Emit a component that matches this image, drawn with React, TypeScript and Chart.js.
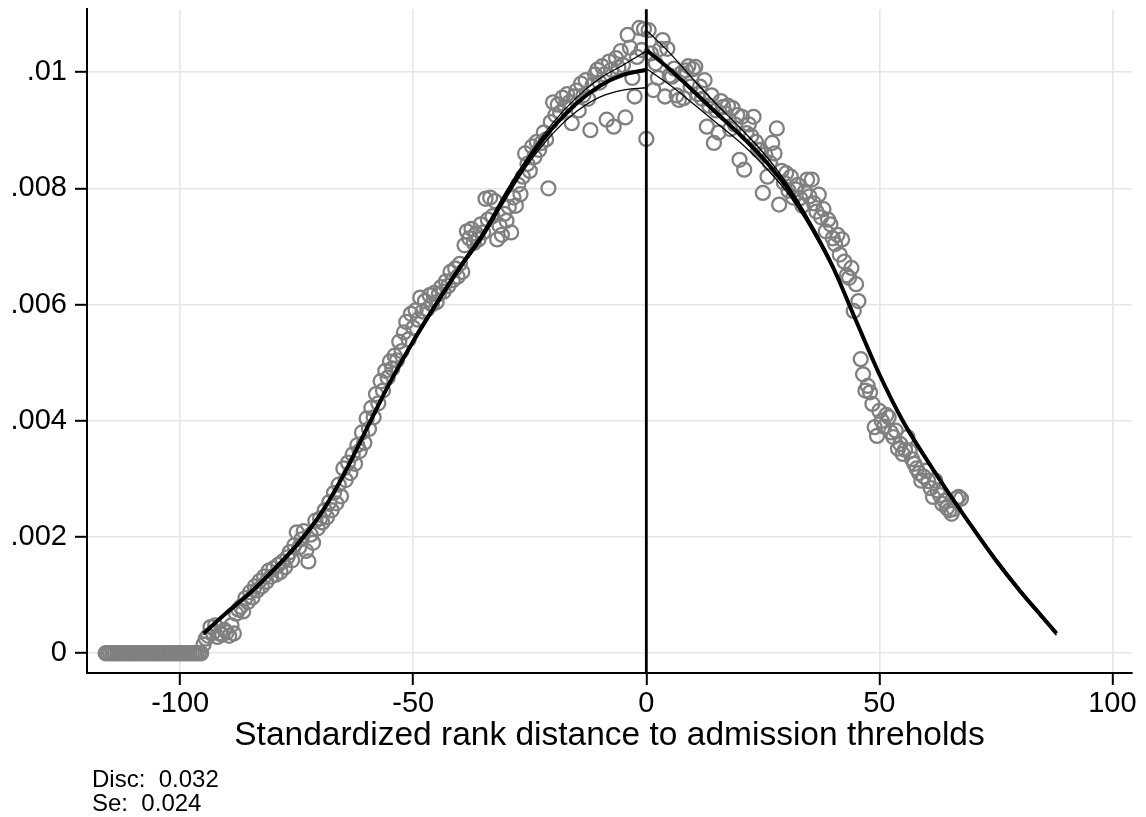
import React, { useEffect, useRef } from 'react';
import { Chart, registerables } from 'chart.js';

Chart.register(...registerables);

const FONT = "'Liberation Sans', Arial, Helvetica, sans-serif";

const xTicks = [-100, -50, 0, 50, 100];
const yTicks = [0, 0.002, 0.004, 0.006, 0.008, 0.01];
const yTickLabels = ['0', '.002', '.004', '.006', '.008', '.01'];
const xTitle = 'Standardized rank distance to admission threholds';
const noteLines = ['Disc:  0.032', 'Se:  0.024'];
const cutoff = 0;

// bins with zero density (left tail)
const zeroBinsX = [
  -116, -115.5, -115, -114.5, -114, -113.5, -113, -112.5, -112, -111.5, -111, -110.5, -110, -109.5,
  -109, -108.5, -108, -107.5, -107, -106.5, -106, -105.5, -105, -104.5, -104, -103.5, -103, -102.5,
  -102, -101.5, -101, -100.5, -100, -99.5, -99, -98.5, -98, -97.5, -97, -96.5, -96, -95.5,
];

// binned density, left of the threshold [x, density]
const leftBins: [number, number][] = [
  [-95, 0.00015], [-94.5, 0.00025], [-94, 0.0003], [-93.5, 0.00045], [-93, 0.00035], [-92.5, 0.00048], [-92, 0.00028], [-91.5, 0.00034],
  [-91, 0.00032], [-90.5, 0.0004], [-90, 0.00036], [-89.5, 0.0003], [-89, 0.00048], [-88.5, 0.00034], [-88, 0.00068], [-87.5, 0.00075],
  [-87, 0.0008], [-86.5, 0.00072], [-86, 0.00095], [-85.5, 0.00088], [-85, 0.00105], [-84.5, 0.00096], [-84, 0.00115], [-83.5, 0.00108],
  [-83, 0.00124], [-82.5, 0.00115], [-82, 0.00132], [-81.5, 0.00123], [-81, 0.00142], [-80.5, 0.00132], [-80, 0.00146], [-79.5, 0.00135],
  [-79, 0.00152], [-78.5, 0.0014], [-78, 0.00158], [-77.5, 0.00148], [-77, 0.00165], [-76.5, 0.00174], [-76, 0.0016], [-75.5, 0.00186],
  [-75, 0.00208], [-74.5, 0.00182], [-74, 0.00196], [-73.5, 0.0021], [-73, 0.00176], [-72.5, 0.00158], [-72, 0.00204], [-71.5, 0.0019],
  [-71, 0.00228], [-70.5, 0.00215], [-70, 0.00232], [-69.5, 0.00225], [-69, 0.00246], [-68.5, 0.00234], [-68, 0.0026], [-67.5, 0.00246],
  [-67, 0.00276], [-66.5, 0.00258], [-66, 0.0029], [-65.5, 0.0027], [-65, 0.00318], [-64.5, 0.00298], [-64, 0.00328], [-63.5, 0.0031],
  [-63, 0.00342], [-62.5, 0.00326], [-62, 0.00358], [-61.5, 0.00348], [-61, 0.0038], [-60.5, 0.00362], [-60, 0.00404], [-59.5, 0.00386],
  [-59, 0.00422], [-58.5, 0.00406], [-58, 0.00446], [-57.5, 0.0043], [-57, 0.00468], [-56.5, 0.00452], [-56, 0.00486], [-55.5, 0.00474],
  [-55, 0.00502], [-54.5, 0.0049], [-54, 0.00512], [-53.5, 0.00504], [-53, 0.00536], [-52.5, 0.0052], [-52, 0.00552], [-51.5, 0.0057],
  [-51, 0.0054], [-50.5, 0.00584], [-50, 0.0056], [-49.5, 0.0059], [-49, 0.00574], [-48.5, 0.00612], [-48, 0.00588], [-47.5, 0.00606],
  [-47, 0.00592], [-46.5, 0.00616], [-46, 0.006], [-45.5, 0.0062], [-45, 0.00604], [-44.5, 0.00618], [-44, 0.0063], [-43.5, 0.00622],
  [-43, 0.0064], [-42.5, 0.00632], [-42, 0.00656], [-41.5, 0.00642], [-41, 0.00662], [-40.5, 0.00648], [-40, 0.0067], [-39.5, 0.00656],
  [-39, 0.00702], [-38.5, 0.00726], [-38, 0.00714], [-37.5, 0.0073], [-37, 0.00706], [-36.5, 0.00722], [-36, 0.00712], [-35.5, 0.00738],
  [-35, 0.00724], [-34.5, 0.00782], [-34, 0.00746], [-33.5, 0.00784], [-33, 0.00752], [-32.5, 0.00778], [-32, 0.00712], [-31.5, 0.00736],
  [-31, 0.0072], [-30.5, 0.00756], [-30, 0.00744], [-29.5, 0.00768], [-29, 0.00724], [-28.5, 0.00784], [-28, 0.0077], [-27.5, 0.00806],
  [-27, 0.0079], [-26.5, 0.0082], [-26, 0.0086], [-25.5, 0.00842], [-25, 0.0083], [-24.5, 0.00872], [-24, 0.00854], [-23.5, 0.0088],
  [-23, 0.00866], [-22.5, 0.00878], [-22, 0.00896], [-21.5, 0.00884], [-21, 0.008], [-20.5, 0.00914], [-20, 0.00948], [-19.5, 0.00926],
  [-19, 0.00944], [-18.5, 0.0093], [-18, 0.00956], [-17.5, 0.0094], [-17, 0.00962], [-16.5, 0.00948], [-16, 0.00912], [-15.5, 0.00958],
  [-15, 0.00968], [-14.5, 0.00934], [-14, 0.0098], [-13.5, 0.0096], [-13, 0.00986], [-12.5, 0.00954], [-12, 0.009], [-11.5, 0.00978],
  [-11, 0.00996], [-10.5, 0.01004], [-10, 0.00982], [-9.5, 0.0101], [-9, 0.00996], [-8.5, 0.00918], [-8, 0.01018], [-7.5, 0.01004],
  [-7, 0.00906], [-6.5, 0.01024], [-6, 0.01008], [-5.5, 0.01036], [-5, 0.01012], [-4.5, 0.00922], [-4, 0.01064], [-3.5, 0.01042],
  [-3, 0.0099], [-2.5, 0.00958], [-2, 0.01026], [-1.5, 0.01076], [-1, 0.01038], [-0.5, 0.01074], [0, 0.00885],
];

// binned density, right of the threshold [x, density]
const rightBins: [number, number][] = [
  [0.5, 0.01072], [1, 0.01032], [1.5, 0.00969], [2, 0.01015], [2.5, 0.0099], [3, 0.0104], [3.5, 0.01055], [4, 0.00958],
  [4.5, 0.0104], [5, 0.00994], [5.5, 0.00992], [6, 0.01006], [6.5, 0.0096], [7, 0.00952], [7.5, 0.00998], [8, 0.00955],
  [8.5, 0.01003], [9, 0.0101], [9.5, 0.00975], [10, 0.01005], [10.5, 0.01009], [11, 0.00962], [11.5, 0.00975], [12, 0.00954],
  [12.5, 0.00986], [13, 0.00906], [13.5, 0.00942], [14, 0.0096], [14.5, 0.00878], [15, 0.00934], [15.5, 0.00896], [16, 0.0095],
  [16.5, 0.0094], [17, 0.00929], [17.5, 0.00942], [18, 0.00902], [18.5, 0.00938], [19, 0.0091], [19.5, 0.00926], [20, 0.00849],
  [20.5, 0.00923], [21, 0.00832], [21.5, 0.00895], [22, 0.0091], [22.5, 0.0089], [23, 0.00923], [23.5, 0.0088], [24, 0.00866],
  [24.5, 0.00866], [25, 0.00792], [25.5, 0.00858], [26, 0.0082], [26.5, 0.00844], [27, 0.00878], [27.5, 0.0086], [28, 0.00903],
  [28.5, 0.00772], [29, 0.0083], [29.5, 0.0081], [30, 0.00826], [30.5, 0.00796], [31, 0.0082], [31.5, 0.00784], [32, 0.00798],
  [32.5, 0.00806], [33, 0.00783], [33.5, 0.0077], [34, 0.00794], [34.5, 0.00815], [35, 0.00786], [35.5, 0.00815], [36, 0.00774],
  [36.5, 0.0076], [37, 0.00789], [37.5, 0.0075], [38, 0.00764], [38.5, 0.00726], [39, 0.00746], [39.5, 0.00738], [40, 0.00714],
  [40.5, 0.00704], [41, 0.0072], [41.5, 0.00686], [42, 0.00712], [42.5, 0.00674], [43, 0.0065], [43.5, 0.00646], [44, 0.00663],
  [44.5, 0.00589], [45, 0.00635], [45.5, 0.00606], [46, 0.00506], [46.5, 0.0048], [47, 0.00452], [47.5, 0.0046], [48, 0.00449],
  [48.5, 0.00429], [49, 0.00389], [49.5, 0.00374], [50, 0.00417], [50.5, 0.004], [51, 0.0039], [51.5, 0.0041], [52, 0.00406],
  [52.5, 0.0038], [53, 0.00372], [53.5, 0.00383], [54, 0.00352], [54.5, 0.0036], [55, 0.00343], [55.5, 0.0035], [56, 0.00372],
  [56.5, 0.00348], [57, 0.00334], [57.5, 0.00326], [58, 0.00318], [58.5, 0.0031], [59, 0.00297], [59.5, 0.00304], [60, 0.00314],
  [60.5, 0.00296], [61, 0.00284], [61.5, 0.00269], [62, 0.00297], [62.5, 0.0028], [63, 0.00272], [63.5, 0.00257], [64, 0.00262],
  [64.5, 0.0025], [65, 0.00246], [65.5, 0.0024], [66, 0.00248], [66.5, 0.00266], [67, 0.00269], [67.5, 0.00266],
];

// fitted density and confidence bands, left side
const leftFit: [number, number][] = [
  [-95, 0.00034], [-90, 0.0007], [-85, 0.00104], [-80, 0.00143], [-75, 0.00186], [-70, 0.00238], [-65, 0.00306], [-60, 0.00386],
  [-55, 0.00466], [-50, 0.00537], [-45, 0.00602], [-40, 0.00664], [-35, 0.00721], [-30, 0.0079], [-25, 0.00853], [-20, 0.00905],
  [-15, 0.00946], [-10, 0.00976], [-5, 0.00995], [0, 0.01004],
];
const leftUpper: [number, number][] = [
  [-95, 0.00036], [-90, 0.00072], [-85, 0.00106], [-80, 0.00146], [-75, 0.00189], [-70, 0.00241], [-65, 0.00309], [-60, 0.00389],
  [-55, 0.00469], [-50, 0.00541], [-45, 0.00606], [-40, 0.00668], [-35, 0.00726], [-30, 0.00796], [-25, 0.00859], [-20, 0.00913],
  [-15, 0.00956], [-10, 0.00989], [-5, 0.01012], [0, 0.01036],
];
const leftLower: [number, number][] = [
  [-95, 0.00032], [-90, 0.00068], [-85, 0.00102], [-80, 0.0014], [-75, 0.00183], [-70, 0.00235], [-65, 0.00303], [-60, 0.00383],
  [-55, 0.00463], [-50, 0.00533], [-45, 0.00598], [-40, 0.0066], [-35, 0.00716], [-30, 0.00784], [-25, 0.00846], [-20, 0.00895],
  [-15, 0.00932], [-10, 0.00957], [-5, 0.00969], [0, 0.00973],
];

// fitted density and confidence bands, right side
const rightFit: [number, number][] = [
  [0, 0.01038], [5, 0.01005], [10, 0.00968], [15, 0.0093], [20, 0.00893], [25, 0.00852], [30, 0.00803], [35, 0.0074],
  [40, 0.00665], [45, 0.00572], [50, 0.0048], [55, 0.004], [60, 0.00335], [65, 0.00274], [70, 0.00216], [75, 0.0016],
  [80, 0.00109], [85, 0.00062], [88, 0.00034],
];
const rightUpper: [number, number][] = [
  [0, 0.01072], [5, 0.01033], [10, 0.00988], [15, 0.00945], [20, 0.00905], [25, 0.00862], [30, 0.0081], [35, 0.00745],
  [40, 0.00669], [45, 0.00575], [50, 0.00483], [55, 0.00403], [60, 0.00338], [65, 0.00277], [70, 0.00219], [75, 0.00163],
  [80, 0.00112], [85, 0.00065], [88, 0.00037],
];
const rightLower: [number, number][] = [
  [0, 0.01006], [5, 0.00978], [10, 0.00946], [15, 0.00913], [20, 0.0088], [25, 0.00841], [30, 0.00795], [35, 0.00735],
  [40, 0.00661], [45, 0.00569], [50, 0.00477], [55, 0.00397], [60, 0.00332], [65, 0.00271], [70, 0.00213], [75, 0.00157],
  [80, 0.00106], [85, 0.00059], [88, 0.00031],
];

const toPts = (arr: [number, number][]) => arr.map(([x, y]) => ({ x, y }));

export default function App() {
  const canvasRef = useRef<HTMLCanvasElement | null>(null);

  useEffect(() => {
    const canvas = canvasRef.current;
    if (!canvas) return;

    const scatterPts = [
      ...zeroBinsX.map((x) => ({ x, y: 0 })),
      ...toPts(leftBins),
      ...toPts(rightBins),
    ];

    const lineDs = (data: [number, number][], width: number, order: number) => ({
      type: 'scatter' as const,
      data: toPts(data),
      showLine: true,
      borderColor: '#000000',
      backgroundColor: '#000000',
      borderWidth: width,
      pointRadius: 0,
      pointHoverRadius: 0,
      cubicInterpolationMode: 'monotone' as const,
      fill: false,
      order,
    });

    const cutoffPlugin = {
      id: 'cutoffLine',
      afterDatasetsDraw(chart: any) {
        const { ctx, chartArea, scales } = chart;
        const px = scales.x.getPixelForValue(cutoff);
        ctx.save();
        ctx.strokeStyle = '#000000';
        ctx.lineWidth = 2.8;
        ctx.beginPath();
        ctx.moveTo(px, chartArea.top);
        ctx.lineTo(px, chartArea.bottom);
        ctx.stroke();
        ctx.restore();
      },
    };

    const notePlugin = {
      id: 'noteText',
      afterDraw(chart: any) {
        const { ctx } = chart;
        ctx.save();
        ctx.fillStyle = '#000000';
        ctx.font = `24px ${FONT}`;
        ctx.textBaseline = 'alphabetic';
        ctx.textAlign = 'left';
        noteLines.forEach((t, i) => ctx.fillText(t, 92, 787 + i * 24));
        ctx.restore();
      },
    };

    const gridOpts = {
      color: '#e6e6e6',
      lineWidth: 1.6,
      tickColor: '#000000',
      tickWidth: 2,
      tickLength: 12,
    };

    const chart = new Chart(canvas, {
      type: 'scatter',
      data: {
        datasets: [
          {
            type: 'scatter',
            data: scatterPts,
            showLine: false,
            pointStyle: 'circle',
            pointRadius: 7,
            pointHoverRadius: 7,
            borderWidth: 2.3,
            pointBorderWidth: 2.3,
            borderColor: '#808080',
            pointBorderColor: '#808080',
            backgroundColor: 'rgba(0,0,0,0)',
            pointBackgroundColor: 'rgba(0,0,0,0)',
            order: 10,
          } as any,
          lineDs(leftUpper, 1.3, 3),
          lineDs(leftLower, 1.3, 3),
          lineDs(rightUpper, 1.3, 3),
          lineDs(rightLower, 1.3, 3),
          lineDs(leftFit, 4, 1),
          lineDs(rightFit, 4, 1),
        ],
      },
      options: {
        animation: false,
        responsive: true,
        maintainAspectRatio: false,
        layout: { padding: { top: 9, right: 14, left: 0, bottom: 0 } },
        plugins: {
          legend: { display: false },
          tooltip: { enabled: false },
        },
        events: [],
        scales: {
          x: {
            type: 'linear',
            min: -120,
            max: 104.2,
            afterBuildTicks: (s: any) => {
              s.ticks = xTicks.map((v) => ({ value: v }));
            },
            afterFit: (s: any) => {
              s.height = 144;
              s.paddingLeft = 0;
              s.paddingRight = 0;
            },
            grid: gridOpts,
            border: { display: true, color: '#000000', width: 2 },
            ticks: {
              color: '#000000',
              font: { family: FONT, size: 29, lineHeight: 1.2 },
              padding: 2,
              maxRotation: 0,
              autoSkip: false,
              callback: (v: any) => String(v),
            },
            title: {
              display: true,
              text: xTitle,
              color: '#000000',
              font: { family: FONT, size: 33.5, lineHeight: 1.2 },
              padding: { top: 0, bottom: 61 },
            },
          },
          y: {
            type: 'linear',
            min: -0.00034,
            max: 0.01108,
            afterBuildTicks: (s: any) => {
              s.ticks = yTicks.map((v) => ({ value: v }));
            },
            afterFit: (s: any) => {
              s.width = 87;
              s.paddingTop = 0;
              s.paddingBottom = 0;
            },
            grid: gridOpts,
            border: { display: true, color: '#000000', width: 2 },
            ticks: {
              color: '#000000',
              font: { family: FONT, size: 29, lineHeight: 1.2 },
              padding: 8,
              autoSkip: false,
              callback: (v: any) => {
                const i = yTicks.findIndex((t) => Math.abs(t - Number(v)) < 1e-9);
                return i >= 0 ? yTickLabels[i] : '';
              },
            },
          },
        },
      } as any,
      plugins: [cutoffPlugin, notePlugin],
    });

    return () => chart.destroy();
  }, []);

  return (
    <div style={{ position: 'fixed', left: 0, top: 0, width: 1146, height: 817, background: '#ffffff' }}>
      <canvas ref={canvasRef} />
    </div>
  );
}
